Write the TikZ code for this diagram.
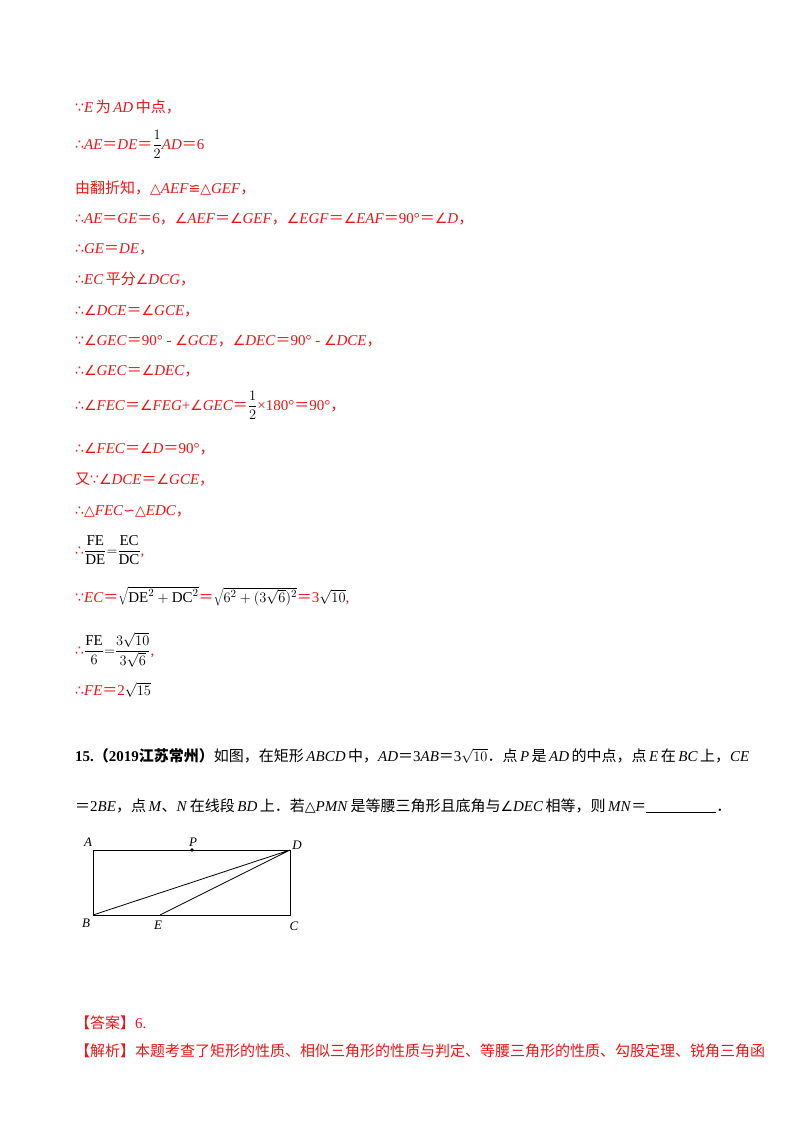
\documentclass[tikz,border=0pt]{standalone}
\usepackage{fontspec}
\setmainfont{Liberation Serif}
\newfontfamily\cjk{Noto Sans CJK SC}
\newfontfamily\sy{DejaVu Sans}
\newcommand\zh[1]{{\cjk #1}}
\newcommand\s[1]{{\sy\fontsize{14pt}{16pt}\selectfont #1}}
\newcommand\I[1]{\textit{#1}}
\newcommand\eq{\zh{＝}}
\definecolor{ans}{RGB}{240,20,20}
\tikzset{ln/.style={anchor=base west,inner sep=0pt,text=ans,font=\fontsize{15pt}{17pt}\selectfont},
 pr/.style={anchor=base west,inner sep=0pt,text=black,font=\fontsize{15pt}{17pt}\selectfont},
 lb/.style={inner sep=0pt,font=\fontsize{13pt}{15pt}\selectfont\itshape}}
\begin{document}
\begin{tikzpicture}[x=1pt,y=-1pt]
\useasboundingbox (0,0) rectangle (800,1132);
\fill[white] (0,0) rectangle (800,1132);
\node[ln] (l1) at (75,112) {\s{∵}\I{E}\,\zh{为}\,\I{AD}\,\zh{中点，}};
\node[ln] (l2) at (75,149) {\s{∴}\I{AE}\eq\I{DE}\eq{\color{black}$\displaystyle\frac{1}{2}$}\I{AD}\eq6};
\node[ln] (l3) at (75,193) {\zh{由翻折知，}\s{△}\I{AEF}\s{≌△}\I{GEF}\zh{，}};
\node[ln] (l4) at (75,223) {\s{∴}\I{AE}\eq\I{GE}\eq6\zh{，}\s{∠}\I{AEF}\eq\s{∠}\I{GEF}\zh{，}\s{∠}\I{EGF}\eq\s{∠}\I{EAF}\eq90°\eq\s{∠}\I{D}\zh{，}};
\node[ln] (l5) at (75,253) {\s{∴}\I{GE}\eq\I{DE}\zh{，}};
\node[ln] (l6) at (75,284) {\s{∴}\I{EC}\,\zh{平分}\s{∠}\I{DCG}\zh{，}};
\node[ln] (l7) at (75,315) {\s{∴∠}\I{DCE}\eq\s{∠}\I{GCE}\zh{，}};
\node[ln] (l8) at (75,345) {\s{∵∠}\I{GEC}\eq90° - \s{∠}\I{GCE}\zh{，}\s{∠}\I{DEC}\eq90° - \s{∠}\I{DCE}\zh{，}};
\node[ln] (l9) at (75,375) {\s{∴∠}\I{GEC}\eq\s{∠}\I{DEC}\zh{，}};
\node[ln] (l10) at (75,410) {\s{∴∠}\I{FEC}\eq\s{∠}\I{FEG}+\s{∠}\I{GEC}\eq{\color{black}$\displaystyle\frac{1}{2}$}×180°\eq90°\zh{，}};
\node[ln] (l11) at (75,453) {\s{∴∠}\I{FEC}\eq\s{∠}\I{D}\eq90°\zh{，}};
\node[ln] (l12) at (75,484) {\zh{又}\s{∵∠}\I{DCE}\eq\s{∠}\I{GCE}\zh{，}};
\node[ln] (l13) at (75,515) {\s{∴△}\I{FEC}\s{∽△}\I{EDC}\zh{，}};
\node[ln] (l14) at (75,555) {\s{∴}{\color{black}$\displaystyle\frac{\mathrm{FE}}{\mathrm{DE}}{=}\frac{\mathrm{EC}}{\mathrm{DC}}$},};
\node[ln] (l15) at (75,602) {\s{∵}\I{EC}\eq{\color{black}$\sqrt{\mathrm{DE}^2+\mathrm{DC}^2}$}\eq{\color{black}$\sqrt{6^2+(3\sqrt{6})^2}$}\eq3{\color{black}$\sqrt{10}$},};
\node[ln] (l16) at (75,655) {\s{∴}{\color{black}$\displaystyle\frac{\mathrm{FE}}{6}{=}\frac{3\sqrt{10}}{3\sqrt{6}}$},};
\node[ln] (l17) at (75,695) {\s{∴}\I{FE}\eq2{\color{black}$\sqrt{15}$}};
\node[pr] (q1) at (75,761) {\textbf{15.}\zh{\bfseries（}\textbf{2019}\zh{\bfseries 江苏常州）}\zh{如图，在矩形}\,\I{ABCD}\,\zh{中，}\I{AD}\eq3\I{AB}\eq3$\sqrt{10}$\zh{．点}\,\I{P}\,\zh{是}\,\I{AD}\,\zh{的中点，点}\,\I{E}\,\zh{在}\,\I{BC}\,\zh{上，}\I{CE}};
\node[pr] (q2) at (75,811) {\eq2\I{BE}\zh{，点}\,\I{M}\zh{、}\I{N}\,\zh{在线段}\,\I{BD}\,\zh{上．若}\s{△}\I{PMN}\,\zh{是等腰三角形且底角与}\s{∠}\I{DEC}\,\zh{相等，则}\,\I{MN}\eq\rule[-2pt]{70pt}{0.6pt}\zh{．}};
\coordinate (A) at (93,850); \coordinate (D) at (290,850);
\coordinate (B) at (93,915); \coordinate (C) at (290,915);
\coordinate (E) at (160,915); \coordinate (P) at (192,850);
\draw[line width=0.8pt] (A) -- (D) -- (C) -- (B) -- cycle;
\draw[line width=0.8pt] (B) -- (D) -- (E);
\fill (P) circle (1.8pt);
\node[lb] (lA) at (88,842) {A}; \node[lb] (lP) at (193,842) {P};
\node[lb] (lD) at (297,845) {D}; \node[lb] (lB) at (86,923) {B};
\node[lb] (lE) at (158,925) {E}; \node[lb] (lC) at (294,926) {C};
\node[ln] (a1) at (75,1028) {\zh{【答案】}6.};
\node[ln] (a2) at (75,1056) {\zh{【解析】本题考查了矩形的性质、相似三角形的性质与判定、等腰三角形的性质、勾股定理、锐角三角函}};
\end{tikzpicture}
\end{document}
